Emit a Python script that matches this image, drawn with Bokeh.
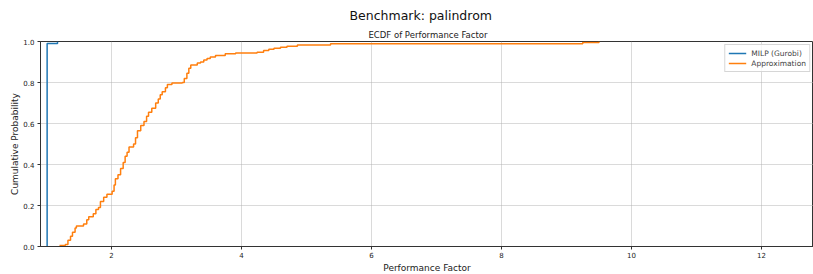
from bokeh.plotting import figure
from bokeh.models import Title, Range1d, FixedTicker, NumeralTickFormatter, Legend, LegendItem
from bokeh.embed import file_html
from bokeh.resources import INLINE

# ---- data ----
milp_x = [1.01, 1.01, 1.17]
milp_y = [0.0, 0.99, 1.0]

approx_x = [1.20, 1.29, 1.33, 1.37, 1.40, 1.44, 1.46, 1.57, 1.62, 1.65, 1.72, 1.76, 1.80, 1.83,
            1.88, 1.93, 2.01, 2.04, 2.06, 2.10, 2.14, 2.18, 2.21, 2.24, 2.27, 2.34, 2.37, 2.40,
            2.45, 2.50, 2.54, 2.57, 2.62, 2.68, 2.72, 2.75, 2.78, 2.83, 2.86, 2.93, 3.09, 3.12,
            3.16, 3.19, 3.22, 3.32, 3.37, 3.42, 3.47, 3.52, 3.60, 3.75, 3.91, 4.24, 4.34, 4.42,
            4.50, 4.60, 4.70, 4.86, 5.37, 9.25, 9.50]
approx_y = [0.005, 0.01, 0.03, 0.05, 0.07, 0.09, 0.10, 0.11, 0.13, 0.145, 0.16, 0.18, 0.19, 0.22,
            0.24, 0.255, 0.27, 0.30, 0.33, 0.35, 0.38, 0.41, 0.44, 0.46, 0.485, 0.50, 0.53, 0.565,
            0.59, 0.61, 0.635, 0.655, 0.675, 0.70, 0.72, 0.74, 0.755, 0.775, 0.79, 0.797, 0.80, 0.82,
            0.845, 0.87, 0.885, 0.895, 0.90, 0.91, 0.917, 0.925, 0.932, 0.94, 0.944, 0.948, 0.956, 0.962,
            0.967, 0.972, 0.977, 0.983, 0.989, 0.995, 1.0]

series_names = ["MILP (Gurobi)", "Approximation"]
x_ticks = [2, 4, 6, 8, 10, 12]
y_ticks = [0.0, 0.2, 0.4, 0.6, 0.8, 1.0]

FONT = "DejaVu Sans"

p = figure(width=813, height=274, output_backend="svg", toolbar_location=None,
           x_range=Range1d(0.908, 12.8), y_range=Range1d(0.0, 1.0),
           min_border_left=40, min_border_right=0, min_border_bottom=28, min_border_top=41)

p.title = None
sub = Title(text="ECDF of Performance Factor", align="left", offset=328, text_font=FONT,
            text_font_size="8.5px", text_font_style="normal", text_color="#222222",
            standoff=3)
p.add_layout(sub, "above")
sup = Title(text="Benchmark: palindrom", align="left", offset=309, text_font=FONT,
            text_font_size="12.5px", text_font_style="normal", text_color="#111111",
            standoff=7)
p.add_layout(sup, "above")

xlab = Title(text="Performance Factor", align="center", text_font=FONT,
             text_font_size="9px", text_font_style="normal", text_color="#222222",
             standoff=1, offset=0)
p.add_layout(xlab, "below")
ylab = Title(text="Cumulative Probability", align="center", text_font=FONT,
             text_font_size="9px", text_font_style="normal", text_color="#222222",
             standoff=2)
p.add_layout(ylab, "left")

r1 = p.step(milp_x, milp_y, mode="after", line_color="#1f77b4", line_width=1.5)
r2 = p.step(approx_x, approx_y, mode="after", line_color="#ff7f0e", line_width=1.5)

legend = Legend(items=[LegendItem(label=series_names[0], renderers=[r1]),
                       LegendItem(label=series_names[1], renderers=[r2])],
                location="top_right", label_text_font=FONT, label_text_font_size="7.5px",
                label_height=10, glyph_height=10, glyph_width=18, spacing=0, padding=3,
                margin=3, border_line_color="#cccccc", border_line_alpha=0.8,
                background_fill_alpha=0.8, label_standoff=5)
p.add_layout(legend)

for ax in (p.xaxis, p.yaxis):
    ax.major_label_text_font = FONT
    ax.major_label_text_font_size = "7px"
    ax.major_label_text_color = "#222222"
    ax.major_tick_out = 3
    ax.major_tick_in = 0
    ax.minor_tick_line_color = None
    ax.axis_line_color = "#333333"
    ax.major_tick_line_color = "#333333"

p.xaxis.ticker = FixedTicker(ticks=x_ticks)
p.yaxis.ticker = FixedTicker(ticks=y_ticks)
p.yaxis.formatter = NumeralTickFormatter(format="0.0")
p.xaxis.major_label_standoff = 2
p.yaxis.major_label_standoff = 3

p.grid.grid_line_color = "#b0b0b0"
p.grid.grid_line_alpha = 0.6
p.grid.grid_line_width = 0.8
p.outline_line_color = "#333333"
p.outline_line_width = 1
p.background_fill_color = "white"
p.border_fill_color = "white"

open("out.html", "w").write(file_html(p, INLINE))
